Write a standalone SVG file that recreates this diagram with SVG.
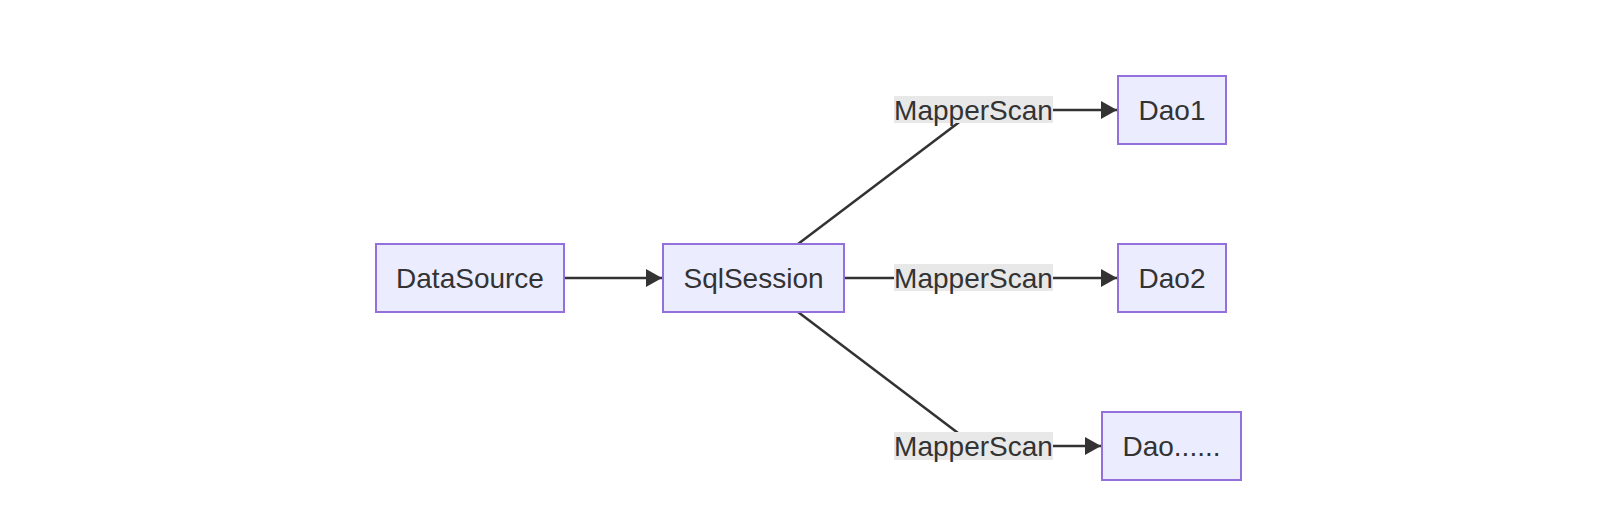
<svg xmlns="http://www.w3.org/2000/svg" width="1598" height="532" viewBox="0 0 1598 532">
<style>
.node rect{fill:#ECECFF;stroke:#9370DB;stroke-width:2;}
.node text{font-family:"Liberation Sans",Arial,sans-serif;font-size:28px;fill:#333;text-anchor:middle;}
.edge{fill:none;stroke:#333;stroke-width:2.5;}
.lbl rect{fill:#e8e8e8;}
.lbl text{font-family:"Liberation Sans",Arial,sans-serif;font-size:28px;fill:#333;text-anchor:middle;}
</style>
<defs>
<marker id="arrow" viewBox="0 0 16 18" refX="16" refY="9" markerWidth="16" markerHeight="18" markerUnits="userSpaceOnUse" orient="auto">
<path d="M0,0 L16,9 L0,18 Z" fill="#333"/>
</marker>
</defs>
<rect width="1598" height="532" fill="#fff"/>
<g id="connectors">
<path class="edge" d="M564,278 L662,278" marker-end="url(#arrow)"/>
<path class="edge" d="M798,244 L958,123 Q972,110 995,110 L1117,110" marker-end="url(#arrow)"/>
<path class="edge" d="M844,278 L1117,278" marker-end="url(#arrow)"/>
<path class="edge" d="M798,312 L958,433 Q972,446 995,446 L1101,446" marker-end="url(#arrow)"/>
</g>
<g id="edge-labels">
<g class="lbl"><rect x="894" y="96" width="159" height="27"/><text x="973.5" y="120">MapperScan</text></g>
<g class="lbl"><rect x="894" y="264" width="159" height="27"/><text x="973.5" y="288">MapperScan</text></g>
<g class="lbl"><rect x="894" y="432" width="159" height="28"/><text x="973.5" y="456">MapperScan</text></g>
</g>
<g id="DataSource" class="node"><rect x="376" y="244" width="188" height="68"/><text x="470" y="288">DataSource</text></g>
<g id="SqlSession" class="node"><rect x="663" y="244" width="181" height="68"/><text x="753.5" y="288">SqlSession</text></g>
<g id="Dao1" class="node"><rect x="1118" y="76" width="108" height="68"/><text x="1172" y="120">Dao1</text></g>
<g id="Dao2" class="node"><rect x="1118" y="244" width="108" height="68"/><text x="1172" y="288">Dao2</text></g>
<g id="Dao3" class="node"><rect x="1102" y="412" width="139" height="68"/><text x="1171.5" y="456">Dao......</text></g>
</svg>
